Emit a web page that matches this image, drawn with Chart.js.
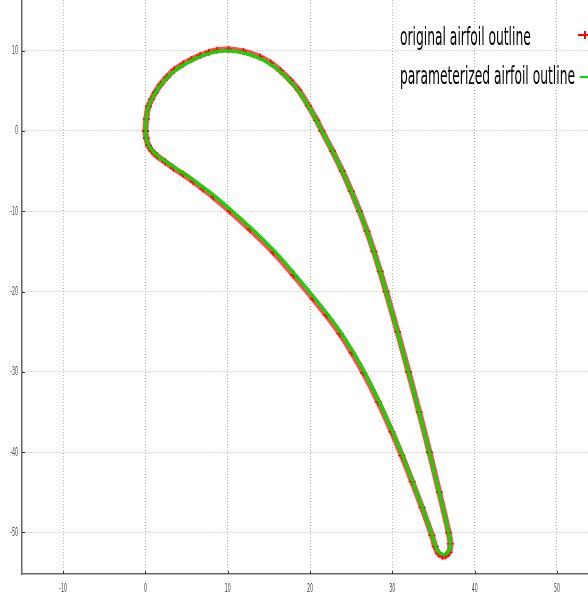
<!DOCTYPE html>
<html>
<head>
<meta charset="utf-8">
<script src="https://cdn.jsdelivr.net/npm/chart.js@4.4.1/dist/chart.umd.min.js"></script>
<style>
  html, body { margin: 0; padding: 0; background: #fff; overflow: hidden; }
</style>
</head>
<body>
<canvas id="grafico" width="588" height="595"></canvas>
<script>
// upper side, leading edge -> trailing edge
const upperX = [0, 0.1, 0.36, 0.75, 1.2, 1.85, 2.6, 3.5, 4.6, 5.6, 6.65, 7.7, 8.7, 10.1, 11.9, 13.9, 15.2, 16.4, 17.6, 18.6, 19.8, 20.8, 21.45, 22.73, 23.92, 25.01, 26.01, 26.92, 27.75, 28.52, 29.24, 30.63, 31.96, 33.26, 34.51, 35.7, 36.84, 37.05];
const upperY = [0, 1.5, 3.0, 3.9, 4.7, 5.7, 6.6, 7.45, 8.2, 8.75, 9.25, 9.65, 9.9, 10.0, 9.75, 9.05, 8.3, 7.4, 6.2, 5.0, 3.1, 1.3, 0, -2.5, -5, -7.5, -10, -12.5, -15, -17.5, -20, -25, -30, -35, -40, -45, -50, -51.4];
// lower side, leading edge -> round trailing edge
const lowerX = [0, 0.1, 0.36, 0.8, 1.4, 2.4, 3.4, 4.6, 5.83, 7.0, 8.26, 10.3, 12.7, 15.55, 18.0, 20.4, 22.0, 23.65, 25.1, 26.5, 28.3, 29.94, 31.15, 32.4, 33.6, 34.8, 35.2, 35.6, 36.1, 36.5, 36.9, 37.05];
const lowerY = [0, -0.9, -1.74, -2.4, -3.0, -3.75, -4.45, -5.25, -6.1, -7.0, -7.97, -9.75, -11.95, -14.8, -17.65, -20.6, -22.65, -24.95, -27.3, -29.8, -33.5, -37.25, -40.2, -43.5, -46.8, -50.25, -51.6, -52.4, -52.75, -52.7, -52.3, -51.4];
// original outline (same stations, slightly off the fitted one)
const origUpperY = [0, 1.5, 3.05, 3.95, 4.8, 5.8, 6.7, 7.6, 8.35, 8.9, 9.4, 9.8, 10.05, 10.15, 9.9, 9.2, 8.45, 7.5, 6.3, 5.1, 3.15, 1.35, 0, -2.5, -5, -7.5, -10, -12.5, -15, -17.5, -20, -25, -30, -35, -40, -45, -50, -51.4];
const origLowerY = [0, -0.9, -1.8, -2.5, -3.1, -3.85, -4.6, -5.4, -6.3, -7.2, -8.2, -10.0, -12.25, -15.1, -17.95, -20.9, -22.95, -25.25, -27.6, -30.1, -33.75, -37.45, -40.4, -43.65, -46.9, -50.35, -51.75, -52.6, -52.95, -52.9, -52.45, -51.4];

const xTicks = [-10, 0, 10, 20, 30, 40, 50];
const yTicks = [-50, -40, -30, -20, -10, 0, 10];
const rotulos = ["original airfoil outline", "parameterized airfoil outline"];

const FONTE = '"Liberation Sans Narrow", "DejaVu Sans Condensed", "Liberation Sans", sans-serif';

// contorno fechado: lado de baixo ate o bordo de fuga, volta pelo lado de cima
function contorno(lx, ly, ux, uy) {
  const pts = lx.map((v, i) => ({ x: v, y: ly[i] }));
  for (let i = ux.length - 2; i >= 0; i--) pts.push({ x: ux[i], y: uy[i] });
  return pts;
}

function textoEstreito(ctx, txt, px, py, align, sx) {
  ctx.save();
  ctx.translate(px, py);
  ctx.scale(sx, 1);
  ctx.textAlign = align;
  ctx.fillText(txt, 0, 0);
  ctx.restore();
}

const decor = {
  id: 'decor',
  afterDraw(chart) {
    const { ctx, chartArea: a, scales: { x, y } } = chart;
    ctx.save();
    // tiques internos
    ctx.strokeStyle = '#333';
    ctx.lineWidth = 1;
    ctx.beginPath();
    xTicks.forEach(v => {
      const px = Math.round(x.getPixelForValue(v)) + 0.5;
      ctx.moveTo(px, a.bottom); ctx.lineTo(px, a.bottom - 3);
    });
    yTicks.forEach(v => {
      const py = Math.round(y.getPixelForValue(v)) + 0.5;
      ctx.moveTo(a.left, py); ctx.lineTo(a.left + 3, py);
    });
    ctx.stroke();

    // rotulos dos eixos
    ctx.fillStyle = '#444';
    ctx.font = '13px ' + FONTE;
    ctx.textBaseline = 'middle';
    const sr = 6 / ctx.measureText('10').width;
    xTicks.forEach(v => textoEstreito(ctx, String(v), x.getPixelForValue(v), 589, 'center', sr));
    yTicks.forEach(v => textoEstreito(ctx, String(v), 18, y.getPixelForValue(v), 'right', sr));

    // legenda (texto antes da amostra de linha)
    ctx.fillStyle = '#000';
    ctx.font = '25px ' + FONTE;
    ctx.textBaseline = 'alphabetic';
    const sx = 175 / ctx.measureText(rotulos[1]).width;
    const linhas = [
      { txt: rotulos[0], base: 45, ly: 35, x0: 578, cor: '#ff0000', cruz: true },
      { txt: rotulos[1], base: 84, ly: 77, x0: 580, cor: '#00dd00', cruz: false }
    ];
    linhas.forEach(l => {
      textoEstreito(ctx, l.txt, 400, l.base, 'left', sx);
      ctx.strokeStyle = l.cor;
      ctx.lineWidth = 2;
      ctx.beginPath();
      ctx.moveTo(l.x0, l.ly); ctx.lineTo(600, l.ly);
      if (l.cruz) { ctx.moveTo(585, l.ly - 4); ctx.lineTo(585, l.ly + 4); }
      ctx.stroke();
    });
    ctx.restore();
  }
};

const eixo = (min, max) => ({
  type: 'linear',
  min, max,
  ticks: { display: false, stepSize: 10, includeBounds: false },
  grid: { color: '#b4b4b4', lineWidth: 1, drawTicks: false },
  border: { display: true, color: '#666', width: 1.5, dash: [1, 2] },
  afterFit(s) {
    s.paddingLeft = 0; s.paddingRight = 0; s.paddingTop = 0; s.paddingBottom = 0;
  }
});

const canvas = document.getElementById('grafico');
new Chart(canvas.getContext('2d'), {
  type: 'scatter',
  data: {
    datasets: [{
      label: rotulos[0],
      data: contorno(lowerX, origLowerY, upperX, origUpperY),
      showLine: true,
      tension: 0.4,
      borderColor: 'rgba(255,0,0,0.7)',
      borderWidth: 6,
      pointStyle: 'cross',
      pointRadius: 3.5,
      pointBorderWidth: 1.5,
      pointBorderColor: '#ff0000',
      order: 1
    }, {
      label: rotulos[1],
      data: contorno(lowerX, lowerY, upperX, upperY),
      showLine: true,
      tension: 0.4,
      borderColor: '#00e000',
      borderWidth: 3,
      pointRadius: 0,
      order: 0
    }]
  },
  options: {
    responsive: false,
    animation: false,
    devicePixelRatio: 1,
    layout: { autoPadding: false, padding: { left: 22, bottom: 21, top: 0, right: 0 } },
    plugins: { legend: { display: false }, tooltip: { enabled: false } },
    scales: {
      x: eixo(-15, 53.77),
      y: eixo(-55.17, 16.31)
    }
  },
  plugins: [decor]
});
</script>
</body>
</html>
